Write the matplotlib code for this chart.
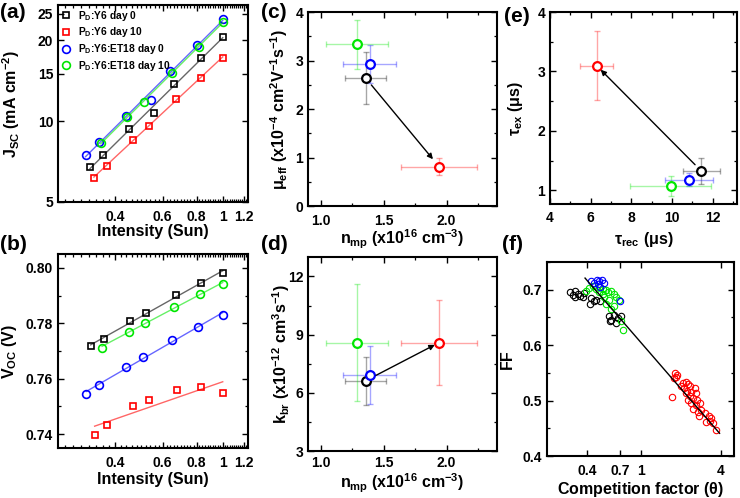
import numpy as np
import matplotlib
matplotlib.use("Agg")
import matplotlib.pyplot as plt
from matplotlib.ticker import FixedLocator, FixedFormatter, MultipleLocator, NullFormatter, NullLocator

plt.rcParams['font.family'] = ['Liberation Sans', 'DejaVu Sans']
plt.rcParams['font.weight'] = 'bold'
plt.rcParams['axes.labelweight'] = 'bold'
plt.rcParams['mathtext.fontset'] = 'custom'
plt.rcParams['mathtext.rm'] = 'Liberation Sans'
plt.rcParams['mathtext.bf'] = 'Liberation Sans:bold'
plt.rcParams['mathtext.it'] = 'Liberation Sans:italic'
plt.rcParams['mathtext.default'] = 'bf'

# ---------------- data ----------------
series_labels = ['P$_D$:Y6 day 0', 'P$_D$:Y6 day 10', 'P$_D$:Y6:ET18 day 0', 'P$_D$:Y6:ET18 day 10']
series_colors = ['#000000', '#ff0000', '#0000ff', '#00e600']
series_markers = ['s', 's', 'o', 'o']

# (a) Jsc vs intensity
int_a = [
    [0.323, 0.361, 0.450, 0.556, 0.659, 0.830, 1.0],
    [0.334, 0.372, 0.464, 0.533, 0.671, 0.828, 1.0],
    [0.311, 0.348, 0.438, 0.541, 0.641, 0.800, 1.0],
    [0.354, 0.443, 0.511, 0.652, 0.815, 1.0],
]
jsc = [
    [6.73, 7.48, 9.34, 10.74, 13.69, 17.1, 20.6],
    [6.16, 6.82, 8.48, 9.61, 12.05, 14.45, 17.2],
    [7.46, 8.36, 10.44, 11.97, 15.35, 19.17, 23.94],
    [8.27, 10.32, 11.8, 15.1, 18.9, 23.3],
]

# (b) Voc vs intensity
int_b = [
    [0.325, 0.365, 0.454, 0.520, 0.671, 0.832, 1.0],
    [0.336, 0.374, 0.467, 0.535, 0.676, 0.832, 1.0],
    [0.313, 0.350, 0.439, 0.507, 0.650, 0.809, 1.0],
    [0.358, 0.449, 0.514, 0.659, 0.823, 1.0],
]
voc = [
    [0.7718, 0.7745, 0.7807, 0.7838, 0.7902, 0.7946, 0.7982],
    [0.7396, 0.7434, 0.7500, 0.7522, 0.7561, 0.7570, 0.7547],
    [0.7546, 0.7578, 0.7642, 0.7680, 0.7741, 0.7787, 0.7829],
    [0.7712, 0.7768, 0.7801, 0.7860, 0.7905, 0.7941],
]

# (c), (d) vs n_mp  (order: Y6 d0, Y6 d10, ET18 d0, ET18 d10)
n_mp = [1.357, 1.941, 1.391, 1.29]
n_mp_err = [0.163, 0.30, 0.21, 0.245]
mu_eff = [2.639, 0.81, 2.928, 3.334]
mu_eff_err = [0.53, 0.18, 0.40, 0.50]
k_br = [6.62, 8.59, 6.91, 8.59]
k_br_err = [1.24, 2.18, 1.50, 3.03]

# (e) tau_ex vs tau_rec
tau_rec = [11.45, 6.30, 10.83, 9.93]
tau_rec_err = [0.93, 0.82, 1.17, 1.97]
tau_ex = [1.323, 3.095, 1.178, 1.072]
tau_ex_err = [0.22, 0.58, 0.11, 0.165]

# (f) FF vs competition factor
theta_k = [0.298, 0.311, 0.323, 0.339, 0.354, 0.370, 0.326, 0.380, 0.427, 0.447, 0.421, 0.465,
           0.501, 0.585, 0.603, 0.638, 0.677, 0.717, 0.658, 0.596]
ff_k = [0.695, 0.690, 0.698, 0.692, 0.689, 0.687, 0.686, 0.694, 0.685, 0.680, 0.675, 0.682,
        0.680, 0.652, 0.646, 0.655, 0.649, 0.652, 0.640, 0.643]
theta_r = [1.826, 1.867, 1.848, 1.794, 1.72, 2.07, 2.17, 2.26, 2.33, 2.13, 2.22, 2.396, 2.54,
           2.58, 2.33, 2.26, 2.46, 2.64, 2.77, 2.46, 2.69, 2.85, 3.01, 2.73, 3.25, 3.39, 3.29,
           3.11, 3.48, 3.69, 2.61, 2.396, 2.197, 2.015]
ff_r = [0.5505, 0.546, 0.543, 0.540, 0.507, 0.531, 0.534, 0.530, 0.526, 0.522, 0.518, 0.516, 0.522,
        0.513, 0.508, 0.501, 0.504, 0.501, 0.495, 0.484, 0.480, 0.483, 0.477, 0.472, 0.472, 0.468,
        0.464, 0.462, 0.459, 0.447, 0.492, 0.495, 0.513, 0.526]
theta_b = [0.427, 0.452, 0.473, 0.492, 0.513, 0.531, 0.480, 0.708, 0.500]
ff_b = [0.716, 0.713, 0.718, 0.716, 0.717, 0.713, 0.710, 0.680, 0.705]
theta_g = [0.391, 0.414, 0.439, 0.465, 0.492, 0.522, 0.553, 0.569, 0.603, 0.638, 0.658, 0.692,
           0.522, 0.537, 0.585, 0.492, 0.553, 0.638, 0.603, 0.717, 0.738]
ff_g = [0.698, 0.703, 0.706, 0.701, 0.704, 0.701, 0.699, 0.695, 0.697, 0.692, 0.686, 0.681,
        0.692, 0.686, 0.682, 0.695, 0.674, 0.671, 0.665, 0.643, 0.628]
fit_theta = [0.385, 3.9]
fit_ff = [0.721, 0.441]

# ---------------- figure ----------------
W, H = 740, 498
fig = plt.figure(figsize=(W / 100, H / 100), dpi=100)


def add_ax(l, r, t, b):
    return fig.add_axes([l / W, 1 - b / H, (r - l) / W, (b - t) / H])


def style(ax, xpad=6):
    for s in ax.spines.values():
        s.set_linewidth(1.5)
    ax.tick_params(which='both', direction='in', top=True, right=True, labelsize=10)
    ax.tick_params(which='major', length=4.5, width=1.0)
    ax.tick_params(which='minor', length=2.5, width=0.9)
    ax.tick_params(axis='x', which='both', pad=xpad)
    ax.tick_params(axis='y', which='both', pad=3.5)


ax_a = add_ax(58, 248, 5, 202)
ax_b = add_ax(58, 248, 254, 448)
ax_c = add_ax(308, 497, 12, 206)
ax_d = add_ax(308, 497, 257, 451)
ax_e = add_ax(550, 737, 12, 204)
ax_f = add_ax(547, 734, 262, 456)

LABEL_FS = 11.5

# ---- (a) ----
handles = []
for xs, ys, c, m, lab in zip(int_a, jsc, series_colors, series_markers, series_labels):
    xs = np.array(xs); ys = np.array(ys)
    p = np.polyfit(np.log10(xs), np.log10(ys), 1)
    xf = np.linspace(xs.min(), xs.max(), 50)
    ax_a.plot(xf, 10 ** np.polyval(p, np.log10(xf)), color=c, lw=1.0, alpha=0.6)
    h, = ax_a.plot(xs, ys, ls='none', marker=m, mfc='none', mec=c, mew=1.2,
                   ms=5 if m == 's' else 5.6, label=lab)
    handles.append(h)

for ax in (ax_a, ax_b):
    ax.set_xscale('log')
    ax.set_xlim(0.246, 1.24)
    ax.xaxis.set_major_locator(FixedLocator([0.4, 0.6, 0.8, 1.0, 1.2]))
    ax.xaxis.set_major_formatter(FixedFormatter(['0.4', '0.6', '0.8', '1', '1.2']))
    minors = [v for v in np.round(np.arange(0.26, 1.24, 0.02), 2) if v not in (0.4, 0.6, 0.8, 1.0, 1.2)]
    ax.xaxis.set_minor_locator(FixedLocator(minors))
    ax.xaxis.set_minor_formatter(NullFormatter())
    style(ax, xpad=6)
    ax.set_xlabel('Intensity (Sun)', fontsize=LABEL_FS)

ax_a.set_yscale('log')
ax_a.set_ylim(5, 27)
ax_a.yaxis.set_major_locator(FixedLocator([5, 10, 15, 20, 25]))
ax_a.yaxis.set_major_formatter(FixedFormatter(['5', '10', '15', '20', '25']))
ax_a.yaxis.set_minor_locator(NullLocator())
ax_a.set_ylabel('J$_{SC}$ (mA cm$^{-2}$)', fontsize=LABEL_FS)
leg = ax_a.legend(handles=handles, loc='upper left', bbox_to_anchor=(-0.01, 1.01), frameon=False,
                  fontsize=7.4, handlelength=0.9, handletextpad=0.7, labelspacing=0.27,
                  borderaxespad=0.3, borderpad=0.25)

# ---- (b) ----
for xs, ys, c, m in zip(int_b, voc, series_colors, series_markers):
    xs = np.array(xs); ys = np.array(ys)
    p = np.polyfit(np.log10(xs), ys, 1)
    xf = np.linspace(xs.min(), xs.max(), 50)
    ax_b.plot(xf, np.polyval(p, np.log10(xf)), color=c, lw=1.0, alpha=0.6)
    ax_b.plot(xs, ys, ls='none', marker=m, mfc='none', mec=c, mew=1.2, ms=5 if m == 's' else 5.6)
ax_b.set_ylim(0.735, 0.805)
ax_b.yaxis.set_major_locator(MultipleLocator(0.02))
ax_b.yaxis.set_minor_locator(MultipleLocator(0.01))
ax_b.yaxis.set_major_formatter(matplotlib.ticker.FormatStrFormatter('%.2f'))
ax_b.set_ylabel('V$_{OC}$ (V)', fontsize=LABEL_FS)


# ---- (c), (d), (e) ----
def err_panel(ax, xs, xe, ys, ye):
    for i, c in enumerate(series_colors):
        ax.errorbar(xs[i], ys[i], xerr=xe[i], yerr=ye[i], fmt='none', ecolor=c, alpha=0.35,
                    elinewidth=1.0, capsize=2, capthick=1.0)
    for i, c in enumerate(series_colors):
        ax.plot(xs[i], ys[i], ls='none', marker='o', mfc='white', mec=c, mew=1.6, ms=6.3, zorder=5)


err_panel(ax_c, n_mp, n_mp_err, mu_eff, mu_eff_err)
err_panel(ax_d, n_mp, n_mp_err, k_br, k_br_err)
err_panel(ax_e, tau_rec, tau_rec_err, tau_ex, tau_ex_err)

arrow_kw = dict(arrowstyle='-|>', color='k', lw=1.0, mutation_scale=8)
ax_c.annotate('', xy=(n_mp[1], mu_eff[1]), xytext=(n_mp[0], mu_eff[0]),
              arrowprops=dict(shrinkA=6.5, shrinkB=7, **arrow_kw), zorder=6)
ax_d.annotate('', xy=(n_mp[1], k_br[1]), xytext=(n_mp[0], k_br[0]),
              arrowprops=dict(shrinkA=8.5, shrinkB=3.5, **arrow_kw), zorder=6)
ax_e.annotate('', xy=(tau_rec[1], tau_ex[1]), xytext=(tau_rec[0], tau_ex[0]),
              arrowprops=dict(shrinkA=6.5, shrinkB=4, **arrow_kw), zorder=6)

for ax, xp in ((ax_c, 6), (ax_d, 3.5)):
    ax.set_xlim(0.9, 2.4)
    ax.xaxis.set_major_locator(FixedLocator([1.0, 1.5, 2.0]))
    ax.xaxis.set_major_formatter(matplotlib.ticker.FormatStrFormatter('%.1f'))
    ax.xaxis.set_minor_locator(FixedLocator([1.25, 1.75, 2.25]))
    style(ax, xpad=xp)
    ax.set_xlabel('n$_{mp}$ (x10$^{16}$ cm$^{-3}$)', fontsize=LABEL_FS)

ax_c.set_ylim(0, 4)
ax_c.yaxis.set_major_locator(MultipleLocator(1))
ax_c.yaxis.set_minor_locator(MultipleLocator(0.5))
ax_c.set_ylabel(r'$\mathrm{\mu}_{eff}$ (x10$^{-4}$ cm$^{2}$V$^{-1}$s$^{-1}$)', fontsize=LABEL_FS)

ax_d.set_ylim(3, 13)
ax_d.yaxis.set_major_locator(FixedLocator([3, 6, 9, 12]))
ax_d.yaxis.set_minor_locator(FixedLocator([4.5, 7.5, 10.5]))
ax_d.set_ylabel('k$_{br}$ (x10$^{-12}$ cm$^{3}$s$^{-1}$)', fontsize=LABEL_FS)

ax_e.set_xlim(4, 13.2)
ax_e.set_ylim(0.77, 4)
ax_e.xaxis.set_major_locator(MultipleLocator(2))
ax_e.xaxis.set_minor_locator(MultipleLocator(1))
ax_e.yaxis.set_major_locator(MultipleLocator(1))
ax_e.yaxis.set_minor_locator(MultipleLocator(0.5))
style(ax_e, xpad=5)
ax_e.set_xlabel(r'$\mathrm{\tau}_{rec}$ ($\mathrm{\mu}$s)', fontsize=LABEL_FS)
ax_e.set_ylabel(r'$\mathrm{\tau}_{ex}$ ($\mathrm{\mu}$s)', fontsize=LABEL_FS)

# ---- (f) ----
for th, ff, c in ((theta_k, ff_k, series_colors[0]), (theta_r, ff_r, series_colors[1]),
                  (theta_g, ff_g, series_colors[3]), (theta_b, ff_b, series_colors[2])):
    ax_f.plot(th, ff, ls='none', marker='o', mfc='none', mec=c, mew=0.8, ms=4.6)
ax_f.plot(fit_theta, fit_ff, color='k', lw=1.0)
ax_f.set_xscale('log')
ax_f.set_xlim(0.2, 5)
ax_f.set_ylim(0.4, 0.75)
ax_f.xaxis.set_major_locator(FixedLocator([0.4, 0.7, 1, 4]))
ax_f.xaxis.set_major_formatter(FixedFormatter(['0.4', '0.7', '1', '4']))
ax_f.xaxis.set_minor_locator(NullLocator())
ax_f.yaxis.set_major_locator(MultipleLocator(0.1))
ax_f.yaxis.set_minor_locator(MultipleLocator(0.05))
ax_f.yaxis.set_major_formatter(matplotlib.ticker.FormatStrFormatter('%.1f'))
style(ax_f, xpad=6)
ax_f.set_xlabel(r'Competition factor ($\mathrm{\theta}$)', fontsize=LABEL_FS)
ax_f.set_ylabel('FF', fontsize=LABEL_FS)

# label positions (axes fraction)
ax_a.yaxis.set_label_coords(-0.19, 0.5)
ax_b.yaxis.set_label_coords(-0.205, 0.5)
ax_c.yaxis.set_label_coords(-0.095, 0.5)
ax_d.yaxis.set_label_coords(-0.085, 0.5)
ax_e.yaxis.set_label_coords(-0.134, 0.5)
ax_f.yaxis.set_label_coords(-0.17, 0.5)
ax_a.xaxis.set_label_coords(0.5, -0.112)
ax_b.xaxis.set_label_coords(0.5, -0.124)
ax_c.xaxis.set_label_coords(0.5, -0.113)
ax_d.xaxis.set_label_coords(0.5, -0.106)
ax_e.xaxis.set_label_coords(0.5, -0.135)
ax_f.xaxis.set_label_coords(0.5, -0.124)

# panel letters
for txt, x, y in (('(a)', 0, 12), ('(b)', 0, 244), ('(c)', 261, 12),
                  ('(d)', 261, 244), ('(e)', 504, 16), ('(f)', 502, 244)):
    fig.text(x / W, 1 - y / H, txt, fontsize=15, fontweight='bold', ha='left', va='center')

fig.savefig('out.png', dpi=100)
